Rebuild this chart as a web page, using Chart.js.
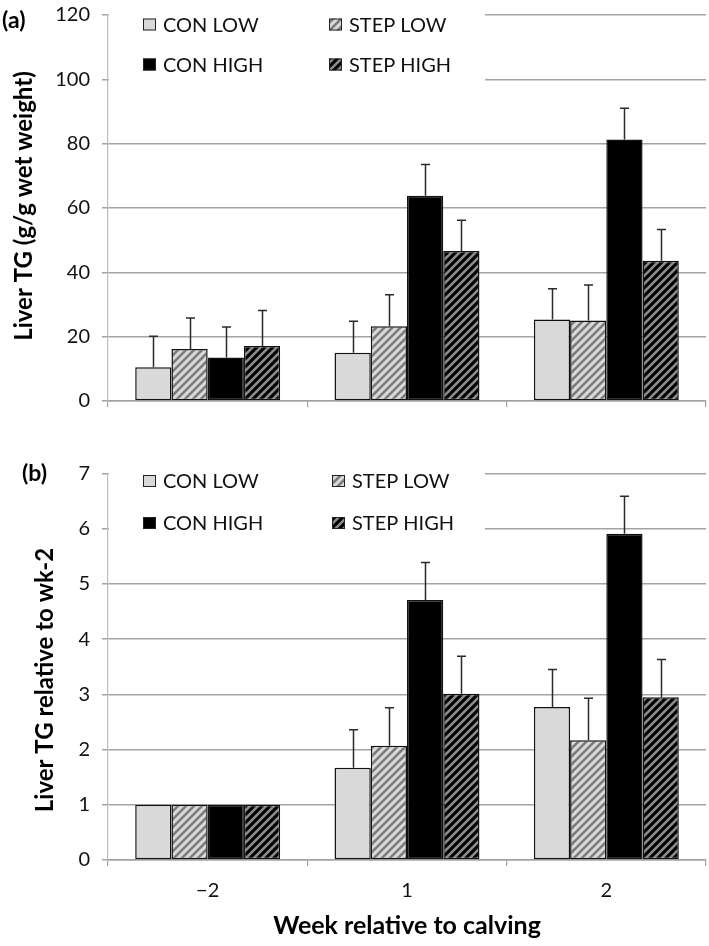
<!DOCTYPE html>
<html><head><meta charset="utf-8">
<script src="https://cdn.jsdelivr.net/npm/chart.js@4"></script>
<style>
html,body{margin:0;padding:0;background:#fff;}
#wrap{position:relative;width:709px;height:946px;overflow:hidden;}
#w1{position:absolute;left:0;top:0;width:709px;height:440px;}
#w2{position:absolute;left:0;top:440px;width:709px;height:506px;}
</style></head><body>
<div id="wrap"><div id="w1"><canvas id="c1"></canvas></div><div id="w2"><canvas id="c2"></canvas></div></div>
<script>
// ---- data ----
const weeks = ['\u22122', '1', '2'];
const seriesNames = ['CON LOW', 'STEP LOW', 'CON HIGH', 'STEP HIGH'];
// panel (a): Liver TG (g/g wet weight)
const aConLow = [10.5, 15.0, 25.3];
const aStepLow = [16.2, 23.2, 25.0];
const aConHigh = [13.5, 63.8, 81.3];
const aStepHigh = [17.1, 46.6, 43.6];
const aConLowErr = [9.6, 9.8, 9.6];
const aStepLowErr = [9.6, 9.8, 11.1];
const aConHighErr = [9.5, 9.7, 9.7];
const aStepHighErr = [11.0, 9.6, 9.7];
// panel (b): Liver TG relative to wk-2
const bConLow = [1, 1.67, 2.77];
const bStepLow = [1, 2.07, 2.17];
const bConHigh = [1, 4.71, 5.91];
const bStepHigh = [1, 3.01, 2.95];
const bConLowErr = [0, 0.69, 0.68];
const bStepLowErr = [0, 0.69, 0.76];
const bConHighErr = [0, 0.68, 0.68];
const bStepHighErr = [0, 0.68, 0.68];
const aAxis = {max: 120, step: 20};
const bAxis = {max: 7, step: 1};
const panelA = '(a)', panelB = '(b)';
const yTitleA = 'Liver TG (g/g wet weight)';
const yTitleB = 'Liver TG relative to wk-2';
const xTitle = 'Week relative to calving';

// ---- styles ----
function stripe(bg, fg){
  const s = 8, t = document.createElement('canvas'); t.width = s; t.height = s;
  const g = t.getContext('2d');
  g.fillStyle = bg; g.fillRect(0,0,s,s);
  g.strokeStyle = fg; g.lineWidth = 2.6;
  g.beginPath();
  g.moveTo(-1, s+1); g.lineTo(s+1, -1);
  g.moveTo(-s/2-1, s/2+1); g.lineTo(s/2+1, -s/2-1);
  g.moveTo(s/2-1, s*1.5+1); g.lineTo(s*1.5+1, s/2-1);
  g.stroke();
  return g.createPattern(t, 'repeat');
}
const fills = ['#d9d9d9', stripe('#d9d9d9', '#7a7a7a'), '#000000', stripe('#000000', '#8c8c8c')];
const FONT = 'Lato, Carlito, "Open Sans", sans-serif';
const GRID = '#a3a3a3';

const decor = {
  id: 'decor',
  beforeDatasetsDraw(chart, args, o){
    const ctx = chart.ctx; ctx.save();
    ctx.fillStyle = '#fff';
    ctx.fillRect(o.rect[0], o.rect[1], o.rect[2], o.rect[3]);
    ctx.font = '20px ' + FONT; ctx.textBaseline = 'middle'; ctx.textAlign = 'left';
    chart.data.datasets.forEach((ds, i) => {
      const col = i % 2, row = Math.floor(i / 2);
      const bx = o.cols[col], cy = o.rows[row];
      ctx.fillStyle = ds.backgroundColor;
      ctx.fillRect(bx, cy - 6, 13, 12);
      ctx.strokeStyle = '#222'; ctx.lineWidth = 1;
      ctx.strokeRect(bx + 0.5, cy - 5.5, 12, 11);
      ctx.fillStyle = '#111';
      ctx.fillText(ds.label, bx + 20, cy + 1);
    });
    ctx.restore();
  },
  afterDatasetsDraw(chart){
    const ctx = chart.ctx, y = chart.scales.y; ctx.save();
    ctx.strokeStyle = '#2a2a2a'; ctx.lineWidth = 1.5;
    chart.data.datasets.forEach((ds, i) => {
      const meta = chart.getDatasetMeta(i);
      meta.data.forEach((el, j) => {
        const e = ds.errors[j]; if (!e) return;
        const top = y.getPixelForValue(ds.data[j] + e);
        const x = Math.round(el.x) + 0.5;
        ctx.beginPath();
        ctx.moveTo(x, el.y); ctx.lineTo(x, top);
        ctx.moveTo(x - 4.5, top); ctx.lineTo(x + 4.5, top);
        ctx.stroke();
      });
    });
    ctx.restore();
  },
  afterDraw(chart, args, o){
    const ctx = chart.ctx; ctx.save();
    ctx.fillStyle = '#000';
    ctx.font = 'bold 23px ' + FONT; ctx.textBaseline = 'middle'; ctx.textAlign = 'left';
    ctx.fillText(o.panel, o.panelXY[0], o.panelXY[1]);
    ctx.translate(o.titleXY[0], o.titleXY[1]); ctx.rotate(-Math.PI/2);
    ctx.font = 'bold 24px ' + FONT; ctx.textAlign = 'center'; ctx.textBaseline = 'alphabetic';
    ctx.fillText(o.title, 0, 0);
    ctx.restore();
  }
};

function makeChart(id, vals, errs, axis, opt){
  return new Chart(document.getElementById(id), {
    type: 'bar',
    data: {
      labels: weeks,
      datasets: seriesNames.map((n, i) => ({
        label: n, data: vals[i], errors: errs[i],
        backgroundColor: fills[i], borderColor: '#111', borderWidth: 1.5, borderSkipped: false,
        categoryPercentage: 0.727, barPercentage: 1.0
      }))
    },
    options: {
      responsive: true, maintainAspectRatio: false, animation: false, devicePixelRatio: 1,
      layout: {padding: {left: 0, right: 3, top: opt.top, bottom: 0}},
      plugins: {legend: {display: false}, tooltip: {enabled: false},
        decor: {rect: opt.rect, cols: opt.cols, rows: opt.rows, panel: opt.panel, panelXY: opt.panelXY, title: opt.title, titleXY: opt.titleXY}},
      scales: {
        x: {
          grid: {display: true, drawOnChartArea: false, drawTicks: true, tickLength: 6, color: GRID, lineWidth: 1.2, offset: true},
          border: {display: true, color: GRID, width: 1.5},
          ticks: {display: opt.showX, color: '#111', font: {family: FONT, size: 20}, padding: 13},
          title: {display: opt.showX, text: xTitle, color: '#000', font: {family: FONT, size: 25, weight: 'bold'}, padding: {top: 0, bottom: 5}},
          afterFit: s => { s.height = opt.xh; s.paddingLeft = 0; s.paddingRight = 0; }
        },
        y: {
          min: 0, max: axis.max,
          ticks: {stepSize: axis.step, color: '#111', font: {family: FONT, size: 20}, padding: 12},
          grid: {color: GRID, lineWidth: 1.5, tickLength: 6},
          border: {display: true, color: '#bdbdbd', width: 1.2},
          afterFit: s => { s.width = 108; s.paddingTop = 0; s.paddingBottom = 0; }
        }
      }
    },
    plugins: [decor]
  });
}

makeChart('c1', [aConLow, aStepLow, aConHigh, aStepHigh], [aConLowErr, aStepLowErr, aConHighErr, aStepHighErr], aAxis,
  {top: 15, xh: 39, showX: false, rect: [109, 3, 376, 97], cols: [143, 329], rows: [24.5, 64.5],
   panel: panelA, panelXY: [2, 21], title: yTitleA, titleXY: [32, 206]});
makeChart('c2', [bConLow, bStepLow, bConHigh, bStepHigh], [bConLowErr, bStepLowErr, bConHighErr, bStepHighErr], bAxis,
  {top: 33.6, xh: 86, showX: true, rect: [109, 20, 376, 85], cols: [143, 332], rows: [41, 83],
   panel: panelB, panelXY: [22, 34], title: yTitleB, titleXY: [53, 240]});
</script>
</body></html>
